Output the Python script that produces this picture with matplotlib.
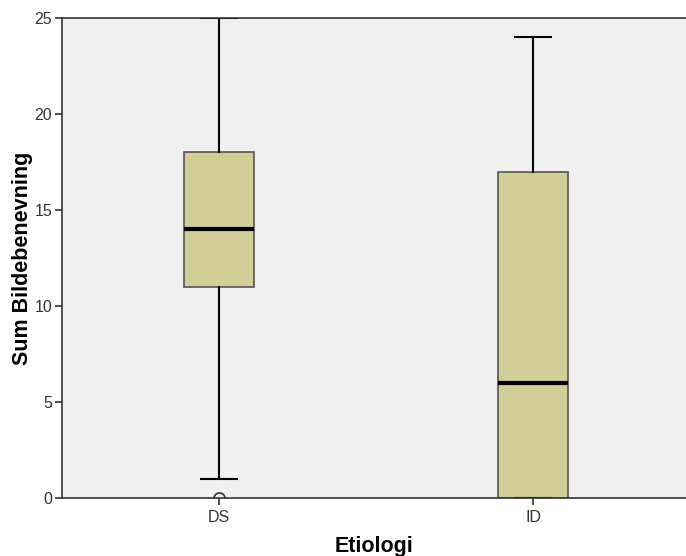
import matplotlib
matplotlib.use("Agg")
import matplotlib.pyplot as plt

# Box statistics
groups = ["DS", "ID"]
q1 = [11, 0]
medians = [14, 6]
q3 = [18, 17]
whis_low = [1, 0]
whis_high = [25, 24]
outliers = [[0], []]

plt.rcParams["font.family"] = ["Liberation Sans", "DejaVu Sans"]

fig = plt.figure(figsize=(6.86, 5.56), dpi=100)
ax = fig.add_axes([62 / 686, 58 / 556, 1 - 62 / 686, 480 / 556])
ax.set_facecolor("#F0F0F0")

stats = []
for i, g in enumerate(groups):
    stats.append({
        "label": g, "q1": q1[i], "med": medians[i], "q3": q3[i],
        "whislo": whis_low[i], "whishi": whis_high[i], "fliers": outliers[i],
    })

ax.bxp(stats, positions=range(len(groups)), widths=0.223, patch_artist=True,
       showfliers=True,
       boxprops=dict(facecolor="#D3CE97", edgecolor="#555555", linewidth=1.2),
       medianprops=dict(color="black", linewidth=3),
       whiskerprops=dict(color="black", linewidth=1.5),
       capprops=dict(color="black", linewidth=1.5),
       capwidths=0.115,
       flierprops=dict(marker="o", markerfacecolor="none", markeredgecolor="#333333",
                       markersize=8, markeredgewidth=1.2))

ax.set_xlim(-0.5, 1.487)
ax.set_ylim(0, 25)
ax.set_yticks([0, 5, 10, 15, 20, 25])
ax.set_xticks(range(len(groups)))
ax.set_xticklabels(groups)

for s in ["top", "left", "bottom"]:
    ax.spines[s].set_color("#333333")
    ax.spines[s].set_linewidth(1.2)
ax.spines["right"].set_visible(False)

ax.tick_params(axis="both", colors="#333333", labelsize=11.5, length=5, width=1.2)
ax.tick_params(axis="y", pad=2)

ax.set_xlabel("Etiologi", fontsize=15.5, fontweight="bold", labelpad=8)
ax.set_ylabel("Sum Bildebenevning", fontsize=15.5, fontweight="bold", labelpad=1)

fig.savefig("out.png", dpi=100)
